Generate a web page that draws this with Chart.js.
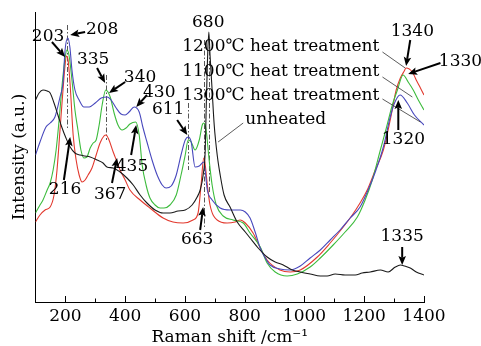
<!DOCTYPE html>
<html><head><meta charset="utf-8">
<script src="https://cdn.jsdelivr.net/npm/chart.js@4"></script>
<style>html,body{margin:0;padding:0;background:#fff}#wrap{width:481px;height:346px}</style>
</head><body><div id="wrap"><canvas id="c" width="481" height="346"></canvas></div>
<script>
// ---- data (Raman shift in cm^-1, intensity in arbitrary units) ----
const unheatedShift = [100,112,125,139,149,162,175,189,202,216,232,249,266,283,306,326,339,360,383,406,427,450,473,500,527,550,577,601,624,641,651,661,668,671,675,680,684,691,698,708,718,731,751,775,802,818,845,875,902,929,959,986,1019,1053,1076,1103,1136,1170,1193,1220,1254,1280,1304,1321,1335,1354,1374,1400];
const unheatedInt   = [202,209,212,211,209,199,187,174,164,155,149,147,146,145,142,139,135,134,130,124,117,107,99,92,89,89,91,92,97,105,112,127,152,192,237,270,247,212,177,147,127,107,95,80,70,64,54,45,40,37,32,30,28,26,26,28,27,27,29,30,32,30,35,37,36,34,30,27];

const heat1300Shift = [100,115,135,149,165,182,192,199,208,215,222,232,246,262,280,300,320,340,353,370,386,400,413,430,447,460,473,490,507,524,537,554,571,587,601,611,621,634,648,663,675,691,718,751,785,802,818,835,852,869,885,918,952,986,1019,1053,1086,1119,1153,1186,1220,1237,1264,1287,1300,1320,1344,1368,1400];
const heat1300Int   = [147,160,175,179,185,205,219,252,264,255,232,212,202,195,195,199,204,205,202,194,188,187,190,195,190,174,160,142,127,117,114,116,127,147,162,165,160,135,136,140,112,102,94,92,92,90,84,70,54,44,37,33,32,36,44,52,62,72,84,95,117,130,155,185,198,207,199,187,177];

const heat1100Shift = [100,115,125,139,149,159,169,179,189,199,205,212,222,232,242,252,262,272,283,293,303,313,323,335,350,363,376,390,403,416,435,447,457,470,483,500,517,530,550,571,587,601,611,621,634,648,658,663,671,681,691,705,728,761,795,818,852,875,902,942,976,1019,1053,1096,1136,1177,1203,1227,1254,1274,1294,1311,1330,1347,1364,1381,1400];
const heat1100Int   = [89,97,102,112,119,132,152,182,217,244,252,247,222,192,172,152,144,145,154,159,162,177,197,212,205,189,177,172,174,178,180,167,137,117,104,97,94,94,97,107,127,147,162,160,152,162,177,179,172,142,117,97,86,82,79,69,55,39,30,26,28,35,44,57,70,85,102,122,152,174,197,212,227,220,212,202,192];

const heat1200Shift = [100,115,132,149,162,172,182,192,199,203,209,216,226,236,246,256,266,276,289,303,316,329,336,346,360,373,383,400,416,450,483,527,560,594,627,644,654,663,668,675,684,708,741,768,785,802,828,852,875,918,952,986,1043,1086,1130,1160,1186,1210,1237,1264,1287,1307,1321,1334,1340,1361,1374,1388,1400];
const heat1200Int   = [80,87,92,95,107,132,172,212,237,246,242,217,167,142,127,120,122,127,134,147,159,166,167,162,150,140,132,122,112,102,94,84,80,79,82,89,117,144,137,117,97,82,79,80,82,79,69,54,42,32,30,32,45,59,75,87,99,112,132,152,182,212,224,231,234,230,222,214,207];

const seriesNames = ['1200℃ heat treatment','1100℃ heat treatment','1300℃ heat treatment','unheated'];

// peak labels: text, shift, intensity
const peakText  = ['203','208','335','340','430','611','680','216','367','435','663','1340','1330','1320','1335'];
const peakShift = [142,323,293,450,514,544,678,199,350,423,641,1361,1522,1331,1327];
const peakInt   = [265,272,242,224,209,192,279,112,107,135,62,270,240,162,65];

// arrows: tail (shift,int) -> tip (shift,int)
const arrowTailShift = [155,266,306,400,473,574,195,356,420,651,1354,1455,1314,1327];
const arrowTailInt   = [260,270,234,220,207,182,122,119,147,72,262,239,172,55];
const arrowTipShift  = [199,216,333,346,437,608,216,373,437,661,1340,1347,1314,1327];
const arrowTipInt    = [245,267,219,209,195,167,165,144,177,95,236,228,202,37];

// series label positions (shift,int) and leader line ends
const nameShift = [591,591,591,802];
const nameInt   = [255,230,206,182];
const leaderFromShift = [1261,1261,1261,795];
const leaderFromInt   = [250,225,203,179];
const leaderToShift   = [1337,1361,1388,711];
const leaderToInt     = [234,205,180,160];

// dash-dot guide lines
const guideShift  = [207,336,611,663,680];
const guideTop    = [277,227,199,262,262];
const guideBottom = [172,162,132,74,110];

const FONT = "'DejaVu Serif', serif";
function zip(xs, ys){ return xs.map((x,i)=>({x:x, y:ys[i]})); }

const annotate = {
  id:'annotate',
  beforeDatasetsDraw(chart){
    const {ctx, scales:{x, y}} = chart;
    ctx.save();
    ctx.strokeStyle='#444'; ctx.lineWidth=0.9; ctx.setLineDash([5,2,1.5,2]);
    guideShift.forEach((s,i)=>{
      const px = Math.round(x.getPixelForValue(s))+0.5;
      ctx.beginPath(); ctx.moveTo(px, y.getPixelForValue(guideTop[i])); ctx.lineTo(px, y.getPixelForValue(guideBottom[i])); ctx.stroke();
    });
    ctx.restore();
  },
  afterDatasetsDraw(chart){
    const {ctx, scales:{x, y}, chartArea} = chart;
    ctx.save();
    // inward axis ticks
    ctx.strokeStyle='#000'; ctx.lineWidth=1;
    for(let v=200; v<=1400; v+=100){
      const px = Math.round(x.getPixelForValue(v))+0.5;
      const len = v%200===0 ? 6 : 3.5;
      ctx.beginPath(); ctx.moveTo(px, chartArea.bottom); ctx.lineTo(px, chartArea.bottom-len); ctx.stroke();
    }
    // leader lines
    ctx.strokeStyle='#333'; ctx.lineWidth=0.8;
    leaderFromShift.forEach((s,i)=>{
      ctx.beginPath();
      ctx.moveTo(x.getPixelForValue(s), y.getPixelForValue(leaderFromInt[i]));
      ctx.lineTo(x.getPixelForValue(leaderToShift[i]), y.getPixelForValue(leaderToInt[i]));
      ctx.stroke();
    });
    // arrows
    ctx.fillStyle='#000'; ctx.strokeStyle='#000';
    arrowTailShift.forEach((s,i)=>{
      const x0=x.getPixelForValue(s), y0=y.getPixelForValue(arrowTailInt[i]);
      const x1=x.getPixelForValue(arrowTipShift[i]), y1=y.getPixelForValue(arrowTipInt[i]);
      const a=Math.atan2(y1-y0,x1-x0), hl=9, hw=3.8;
      const bx=x1-Math.cos(a)*hl*0.8, by=y1-Math.sin(a)*hl*0.8;
      ctx.lineWidth=2;
      ctx.beginPath(); ctx.moveTo(x0,y0); ctx.lineTo(bx,by); ctx.stroke();
      ctx.beginPath();
      ctx.moveTo(x1,y1);
      ctx.lineTo(x1-Math.cos(a)*hl-Math.sin(a)*hw, y1-Math.sin(a)*hl+Math.cos(a)*hw);
      ctx.lineTo(bx,by);
      ctx.lineTo(x1-Math.cos(a)*hl+Math.sin(a)*hw, y1-Math.sin(a)*hl-Math.cos(a)*hw);
      ctx.closePath(); ctx.fill();
    });
    // peak labels
    ctx.font = '17px '+FONT; ctx.textBaseline='middle'; ctx.textAlign='center'; ctx.fillStyle='#000';
    peakText.forEach((t,i)=>{ ctx.fillText(t, x.getPixelForValue(peakShift[i]), y.getPixelForValue(peakInt[i])); });
    // series names
    ctx.textAlign='left';
    seriesNames.forEach((t,i)=>{ ctx.fillText(t, x.getPixelForValue(nameShift[i]), y.getPixelForValue(nameInt[i])); });
    ctx.restore();
  }
};

new Chart(document.getElementById('c'), {
  type:'line',
  data:{ datasets:[
    {label:seriesNames[3], data:zip(unheatedShift, unheatedInt), borderColor:'#1a1a1a'},
    {label:seriesNames[2], data:zip(heat1300Shift, heat1300Int), borderColor:'#4848bd'},
    {label:seriesNames[1], data:zip(heat1100Shift, heat1100Int), borderColor:'#3cbb3c'},
    {label:seriesNames[0], data:zip(heat1200Shift, heat1200Int), borderColor:'#e2392e'}
  ]},
  options:{
    responsive:false, animation:false, devicePixelRatio:1,
    layout:{padding:{top:12, right:57, left:0, bottom:0}},
    elements:{ point:{radius:0}, line:{borderWidth:1.1, cubicInterpolationMode:'monotone', fill:false} },
    plugins:{ legend:{display:false}, tooltip:{enabled:false} },
    scales:{
      x:{ type:'linear', min:100, max:1400,
        ticks:{ stepSize:100, autoSkip:false, maxRotation:0, padding:4, color:'#000',
          font:{family:FONT, size:17},
          callback:v => (v%200===0 ? String(v) : '') },
        grid:{ display:false, drawTicks:false },
        border:{ display:true, color:'#000', width:1 },
        title:{ display:true, text:'Raman shift /cm⁻¹', color:'#000', font:{family:FONT, size:17, lineHeight:1.0}, padding:{top:0,bottom:0} },
        afterFit(s){ s.height = 44; }
      },
      y:{ min:0, max:290,
        ticks:{ display:false },
        grid:{ display:false, drawTicks:false },
        border:{ display:true, color:'#000', width:1 },
        title:{ display:true, text:'Intensity (a.u.)', color:'#000', font:{family:FONT, size:17}, padding:{top:9,bottom:0} },
        afterFit(s){ s.width = 35.5; }
      }
    }
  },
  plugins:[annotate]
});
</script></body></html>
